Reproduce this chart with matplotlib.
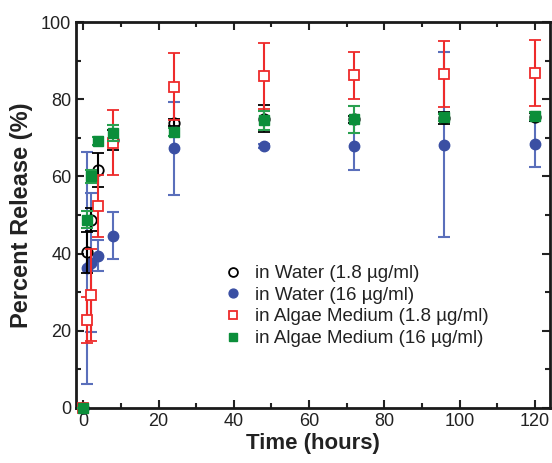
import numpy as np
import matplotlib.pyplot as plt

plt.rcParams['font.family'] = ['Liberation Sans', 'DejaVu Sans']

# time points (hours)
t = [0, 1, 2, 4, 8, 24, 48, 72, 96, 120]

# in Water (1.8 ug/ml)
water_lo = [0, 40.3, 48.8, 61.6, 69.4, 74.0, 75.0, 74.8, 75.2, 75.5]
water_lo_err = [0, 5.2, 3.0, 4.4, 2.6, 1.0, 3.5, 1.0, 1.5, 1.0]
# in Water (16 ug/ml)
water_hi = [0, 36.3, 37.7, 39.5, 44.7, 67.3, 68.0, 67.8, 68.2, 68.5]
water_hi_err = [0, 30.0, 18.0, 4.0, 6.0, 12.0, 0.5, 6.0, 24.0, 6.0]
# in Algae Medium (1.8 ug/ml)
algae_lo = [0, 22.8, 29.3, 52.3, 68.8, 83.3, 86.0, 86.2, 86.5, 86.9]
algae_lo_err = [0, 6.0, 12.0, 8.0, 8.5, 8.7, 8.5, 6.0, 8.6, 8.6]
# in Algae Medium (16 ug/ml)
algae_hi = [0, 48.8, 60.0, 69.2, 71.3, 71.5, 74.6, 74.8, 75.3, 75.6]
algae_hi_err = [0, 2.2, 1.8, 1.0, 2.0, 1.0, 2.5, 3.6, 1.0, 1.0]

labels = ['in Water (1.8 \u00b5g/ml)', 'in Water (16 \u00b5g/ml)',
          'in Algae Medium (1.8 \u00b5g/ml)', 'in Algae Medium (16 \u00b5g/ml)']

blue = '#3a4fa3'
red = '#ee2b2b'
green = '#0b8e3a'

fig = plt.figure(figsize=(5.52, 4.63), dpi=100)
ax = fig.add_axes([0.138, 0.119, 0.858, 0.833])

h_blue = ax.errorbar(t, water_hi, yerr=water_hi_err, fmt='o', color=blue, ecolor='#5a6fbb',
                     ms=7.5, capsize=4, elinewidth=1.5, capthick=1.5, zorder=3)
h_black = ax.errorbar(t, water_lo, yerr=water_lo_err, fmt='o', color='black', mfc='none',
                      ms=7.5, mew=1.3, capsize=4, elinewidth=1.5, capthick=1.5, zorder=4)
h_red = ax.errorbar(t, algae_lo, yerr=algae_lo_err, fmt='s', color=red, mfc='white',
                    ms=7, mew=1.3, capsize=4, elinewidth=1.5, capthick=1.5, zorder=5)
h_green = ax.errorbar(t, algae_hi, yerr=algae_hi_err, fmt='s', color=green, ecolor='#2aa050',
                      ms=7, capsize=4, elinewidth=1.5, capthick=1.5, zorder=6)
for h in (h_blue, h_black, h_red, h_green):
    h[0].set_clip_on(False)
    for a in h[1]:
        a.set_clip_on(False)
    for a in h[2]:
        a.set_clip_on(False)

ax.set_xlim(-1.9, 124)
ax.set_ylim(0, 100)
ax.set_xticks(np.arange(0, 121, 20))
ax.set_xticks(np.arange(0, 121, 10), minor=True)
ax.set_yticks(np.arange(0, 101, 20))
ax.set_yticks(np.arange(0, 101, 10), minor=True)
ax.tick_params(which='both', direction='in', top=True, right=True, width=1.5,
               labelsize=13, colors='#222222')
ax.tick_params(which='major', length=6)
ax.tick_params(which='minor', length=3.5)
for s in ax.spines.values():
    s.set_linewidth(2)
    s.set_color('#1a1a1a')

ax.set_xlabel('Time (hours)', fontsize=16, fontweight='bold', color='#222222', labelpad=2)
ax.set_ylabel('Percent Release (%)', fontsize=17, fontweight='bold', color='#222222', labelpad=6)

leg = ax.legend([h_black[0], h_blue[0], h_red[0], h_green[0]], labels, loc='upper left',
                bbox_to_anchor=(0.272, 0.414), frameon=False, fontsize=13.5,
                handletextpad=0.55, labelspacing=0.24, handlelength=1.2,
                labelcolor='#222222', markerscale=0.85)

plt.savefig('out.png', dpi=100)
